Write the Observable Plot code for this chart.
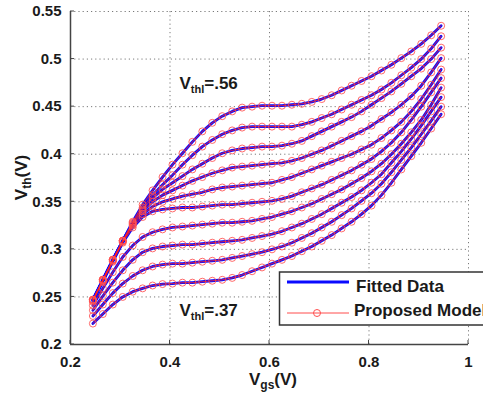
<!DOCTYPE html>
<html><head><meta charset="utf-8">
<script src="https://cdn.jsdelivr.net/npm/d3@7"></script>
<script src="https://cdn.jsdelivr.net/npm/@observablehq/plot@0.6"></script>
<style>
html,body{margin:0;padding:0;background:#fff;overflow:hidden;}
#chart{width:483px;height:396px;}
</style></head><body><div id="chart"></div>
<script>
const vgs = [0.245,0.265,0.285,0.305,0.325,0.345,0.365,0.385,0.405,0.425,0.445,0.465,0.485,0.505,0.525,0.545,0.565,0.585,0.605,0.625,0.645,0.665,0.685,0.705,0.725,0.745,0.765,0.785,0.805,0.825,0.845,0.865,0.885,0.905,0.925,0.945];
const vth0 = [0.222,0.232,0.242,0.250,0.2555,0.259,0.262,0.2635,0.264,0.265,0.265,0.266,0.267,0.268,0.270,0.273,0.277,0.281,0.285,0.289,0.293,0.298,0.303,0.309,0.315,0.322,0.329,0.337,0.346,0.357,0.370,0.384,0.398,0.412,0.427,0.442];
const vth1 = [0.230,0.242,0.254,0.264,0.272,0.278,0.282,0.284,0.285,0.285,0.286,0.287,0.288,0.289,0.291,0.293,0.295,0.297,0.300,0.303,0.307,0.312,0.317,0.323,0.329,0.336,0.343,0.351,0.359,0.369,0.381,0.394,0.407,0.421,0.435,0.450];
const vth2 = [0.236,0.251,0.265,0.278,0.289,0.297,0.301,0.303,0.304,0.305,0.305,0.306,0.307,0.308,0.309,0.310,0.312,0.314,0.316,0.319,0.323,0.327,0.332,0.337,0.343,0.349,0.355,0.362,0.370,0.379,0.391,0.403,0.416,0.430,0.445,0.460];
const vth3 = [0.241,0.259,0.276,0.292,0.304,0.313,0.318,0.321,0.323,0.324,0.325,0.326,0.327,0.328,0.328,0.329,0.330,0.332,0.334,0.337,0.340,0.344,0.348,0.353,0.358,0.363,0.369,0.375,0.382,0.390,0.400,0.411,0.423,0.436,0.452,0.470];
const vth4 = [0.245,0.266,0.287,0.307,0.323,0.334,0.340,0.342,0.343,0.344,0.344,0.345,0.346,0.347,0.347,0.348,0.349,0.350,0.351,0.353,0.356,0.360,0.364,0.368,0.373,0.378,0.383,0.389,0.395,0.403,0.412,0.423,0.436,0.450,0.465,0.480];
const vth5 = [0.246,0.267,0.288,0.308,0.325,0.337,0.345,0.350,0.353,0.356,0.358,0.360,0.363,0.365,0.366,0.367,0.368,0.369,0.370,0.373,0.376,0.380,0.384,0.388,0.392,0.396,0.400,0.405,0.410,0.417,0.425,0.434,0.445,0.458,0.473,0.489];
const vth6 = [0.247,0.268,0.289,0.309,0.326,0.340,0.350,0.357,0.362,0.367,0.372,0.376,0.380,0.383,0.386,0.387,0.388,0.389,0.390,0.391,0.393,0.396,0.400,0.404,0.409,0.414,0.419,0.424,0.430,0.437,0.444,0.452,0.461,0.472,0.486,0.501];
const vth7 = [0.247,0.268,0.289,0.309,0.327,0.342,0.354,0.363,0.370,0.377,0.384,0.390,0.396,0.401,0.404,0.406,0.407,0.408,0.408,0.409,0.411,0.414,0.419,0.424,0.429,0.434,0.439,0.445,0.452,0.459,0.466,0.474,0.482,0.490,0.500,0.512];
const vth8 = [0.247,0.268,0.289,0.309,0.328,0.344,0.357,0.368,0.378,0.389,0.399,0.408,0.415,0.421,0.425,0.428,0.429,0.429,0.429,0.429,0.429,0.431,0.434,0.438,0.442,0.447,0.452,0.457,0.462,0.468,0.475,0.483,0.491,0.500,0.511,0.524];
const vth9 = [0.247,0.268,0.289,0.309,0.329,0.347,0.362,0.376,0.389,0.401,0.413,0.424,0.433,0.440,0.445,0.449,0.450,0.451,0.451,0.451,0.452,0.453,0.455,0.458,0.462,0.467,0.472,0.477,0.482,0.488,0.494,0.501,0.508,0.516,0.525,0.535];
const seriesValues = [vth0,vth1,vth2,vth3,vth4,vth5,vth6,vth7,vth8,vth9];

const xTicks = [0.2,0.4,0.6,0.8,1];
const xTickLabels = ["0.2","0.4","0.6","0.8","1"];
const yTicks = [0.2,0.25,0.3,0.35,0.4,0.45,0.5,0.55];
const yTickLabels = ["0.2","0.25","0.3","0.35","0.4","0.45","0.5","0.55"];
const annotX = [0.42,0.42];
const annotY = [0.468,0.229];
const annotValues = [".56",".37"];
const legendLabels = ["Fitted Data","Proposed Model"];

const rows = seriesValues.flatMap((vals,k)=>vals.map((v,i)=>({vgs:vgs[i], vth:v, curve:k})));
const lookup = (ticks, labels) => d => labels[ticks.findIndex(t => Math.abs(t-d) < 1e-9)];
const FONT = "'Liberation Sans', Arial, Helvetica, sans-serif";

const plot = Plot.plot({
  width:483, height:396,
  marginLeft:70, marginRight:15, marginTop:11, marginBottom:52,
  style:{fontFamily:FONT, fontWeight:"bold", color:"#1a1a1a", background:"#fff", overflow:"hidden"},
  x:{domain:[0.2,1]},
  y:{domain:[0.2,0.55]},
  marks:[
    Plot.ruleX(xTicks,{stroke:"#7a7a7a", strokeDasharray:"1.2,3", strokeWidth:1}),
    Plot.ruleY(yTicks,{stroke:"#7a7a7a", strokeDasharray:"1.2,3", strokeWidth:1}),
    Plot.ruleX([0.2],{stroke:"#444", strokeWidth:1.5}),
    Plot.ruleY([0.2],{stroke:"#444", strokeWidth:1.5}),
    Plot.axisX({ticks:xTicks, tickFormat:lookup(xTicks,xTickLabels), tickSize:0, tickPadding:12, fontSize:15, fontWeight:"bold", label:null}),
    Plot.axisY({ticks:yTicks, tickFormat:lookup(yTicks,yTickLabels), tickSize:0, tickPadding:9, fontSize:15, fontWeight:"bold", label:null}),
    Plot.line(rows,{x:"vgs", y:"vth", z:"curve", stroke:"#0a0aff", strokeWidth:2.8}),
    Plot.line(rows,{x:"vgs", y:"vth", z:"curve", stroke:"#ff2020", strokeWidth:0.8}),
    Plot.dot(rows,{x:"vgs", y:"vth", r:3.5, stroke:"#ff5050", strokeWidth:1, strokeOpacity:0.85, fill:"none"})
  ]
});
document.getElementById("chart").appendChild(plot);

const svg = d3.select(plot);
const sx = plot.scale("x"), sy = plot.scale("y");
const x0 = sx.apply(0.2), y0 = sy.apply(0.2);

// inward ticks
const tk = svg.append("g").attr("stroke","#444").attr("stroke-width",1);
xTicks.forEach(t => tk.append("line").attr("x1",sx.apply(t)).attr("x2",sx.apply(t)).attr("y1",y0).attr("y2",y0-4));
yTicks.forEach(t => tk.append("line").attr("x1",x0).attr("x2",x0+4).attr("y1",sy.apply(t)).attr("y2",sy.apply(t)));

function subText(sel, main, sub, rest, size, subSize, anchor) {
  sel.attr("font-family",FONT).attr("font-weight","bold").attr("font-size",size).attr("fill","#1a1a1a").attr("text-anchor",anchor);
  sel.append("tspan").text(main);
  sel.append("tspan").attr("font-size",subSize).attr("dy",4).text(sub);
  sel.append("tspan").attr("dy",-4).text(rest);
}

// annotations
annotValues.forEach((v,i) => {
  subText(svg.append("text").attr("x",sx.apply(annotX[i])).attr("y",sy.apply(annotY[i])), "V","thl","="+v,17,11,"start");
});

// axis labels
subText(svg.append("text").attr("x",(sx.apply(0.2)+sx.apply(1))/2+4).attr("y",385), "V","gs","(V)",17,12,"middle");
subText(svg.append("text").attr("transform",`translate(27,${(sy.apply(0.2)+sy.apply(0.55))/2}) rotate(-90)`), "V","th","(V)",17,12,"middle");

// legend
const lg = svg.append("g").attr("text-anchor","start");
lg.append("rect").attr("x",279.5).attr("y",272).attr("width",260).attr("height",53).attr("fill","#fff").attr("stroke","#333").attr("stroke-width",1.5);
lg.append("line").attr("x1",287).attr("x2",349).attr("y1",282).attr("y2",282).attr("stroke","#0a0aff").attr("stroke-width",3);
lg.append("text").attr("x",356).attr("y",292).attr("font-family",FONT).attr("font-weight","bold").attr("font-size",17).attr("fill","#1a1a1a").attr("text-anchor","start").text(legendLabels[0]);
lg.append("line").attr("x1",287).attr("x2",349).attr("y1",313).attr("y2",313).attr("stroke","#ff2020").attr("stroke-width",0.8);
lg.append("circle").attr("cx",317).attr("cy",313).attr("r",3.5).attr("fill","none").attr("stroke","#ff5050").attr("stroke-width",1);
lg.append("text").attr("x",354).attr("y",316).attr("font-family",FONT).attr("font-weight","bold").attr("font-size",17).attr("fill","#1a1a1a").attr("text-anchor","start").text(legendLabels[1]);
</script>
</body></html>
